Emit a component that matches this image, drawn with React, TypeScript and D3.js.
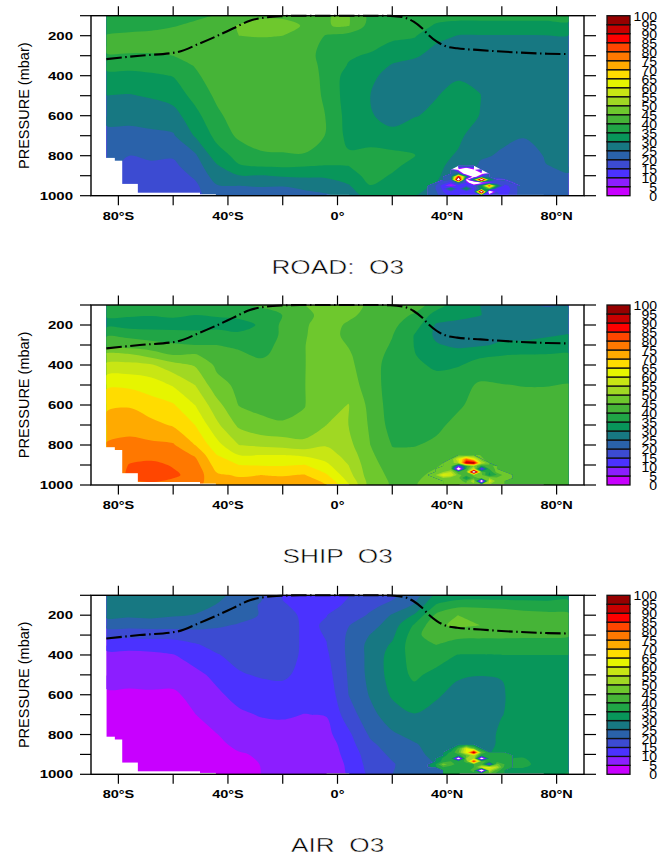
import React from 'react';
import * as d3 from 'd3';

// latitude / pressure grid of the zonal mean fields
const lats = [-84.4, -76, -68, -60, -52, -44, -36, -28, -20, -12, -4, 4, 12, 20, 28, 36, 44, 52, 60, 68, 76, 84.4];
const levels = [100, 150, 200, 250, 300, 350, 400, 500, 600, 700, 800, 850, 900, 950, 1000];

// one profile per latitude, top of atmosphere first
const roadO3 = [
  [37,38,40.2,41.5,39.5,36,34,30,26.5,23.5,20.3,21,20,19,18],
  [37,38.5,40.8,41.5,39.5,36.5,33.5,29.7,26.5,23.5,20,19,18,17.5,17],
  [37,39,41,41.5,39.5,37,34.2,30.5,27,24,20.5,19.5,18,17,16.5],
  [38,39.7,42,42,40,37,35.2,32,28,24.5,20.5,19,17.5,16.5,16],
  [39,41,43,43,41,40.3,39,36.6,33.4,30.4,24.2,22.6,20.8,19,18],
  [40.2,43,44,44,44,43.5,43,41,39,36.5,32.8,29.5,27.5,24.7,23],
  [43,45.3,45,44,44,44,44,43.8,42.5,41,36.5,34.7,29.8,25,23],
  [44,47,45.2,44,44,44,44,44,44,43,39,35.5,29.7,25.3,23],
  [44,47,45,44,44,44,44,44,44,42.5,39.5,35.8,30.5,25.2,23],
  [44,44.5,44.5,44,43,43,43,43,43,42,39.7,35.3,31,25.8,24],
  [44.9,44.9,39.5,37.5,37,38,38.5,39,39.8,39.8,39,34.8,30.5,28.5,24],
  [45.3,45.3,38,36.5,35.5,34.7,33,32.5,33,33.5,35.7,35,33,29.5,27],
  [38.5,38,37.5,36,34.5,33,31.5,30,30.6,33,36.5,37.5,36.5,34.9,32],
  [38,37,36,34.2,32,29.5,27.5,26.5,27.5,32,36.2,36,34.6,32.5,31],
  [37.5,37,35.4,33.5,30.8,28,27,26.5,29.7,33,35.2,33.5,33,31.5,30.5],
  [36.5,34.5,32,29.5,28,27,26.5,29.8,31,32,31.5,31,31,29.5,22],
  [36.5,33.5,29.8,28,27,26.5,29.5,31.5,32,31,29.5,28.5,26,22,20],
  [36.5,33.5,29.7,27,26.5,26.5,28.5,30.2,29.9,27.5,25.5,24.5,22,17,17],
  [36.5,33.5,29.7,27,26,26,26,26,26,25.7,24.6,23.5,21,17,16],
  [36.5,33.5,29.7,27,26,26,26,26,26,25.3,23,22.5,22.3,21,21.5],
  [36.5,33.5,29.8,27,26,26,26,26,26,26.5,25.3,24.9,23.5,22.5,22],
  [36.5,34,29.8,27.5,26.5,26.5,26.5,26.5,26.5,26.5,26,25.5,24.8,23,22],
];

const shipO3 = [
  [37,35.5,33.5,39.5,42.5,51.5,56,63.9,69,72,75.5,75,75,75,75],
  [37,35.6,32.5,39,42,51,56.5,64,69.5,73,76.5,78,80.3,81,78],
  [37.5,35.3,32.5,38,41.5,48,55.5,62.7,67,71.5,76,78,81.5,82.5,79],
  [37.5,36,32.5,37.5,40.5,45,52,59.5,65.5,69.5,75.5,77.5,79.5,81,78],
  [37.5,35,32.5,37,40,45.5,49.5,55,60,65,70,74.5,77,78,76],
  [37.5,35.5,33,37.5,40,42,44,46.6,51.7,56,61.7,65,67.7,70.7,73],
  [39.5,36,33.5,35.7,39,41,42,44,44.8,49,55,60,65,69.5,72],
  [41,37,35.5,36,37,39,42,43,44,46,54,60,64.6,70,72],
  [40.5,40.1,41,41,42,42,42,42,43,45.6,53,60,64.5,69.7,72],
  [45,43.5,44.5,44.7,44.9,44.9,44.9,44.9,44.9,45.6,52,59,65.2,70.2,73],
  [47,47,47,47,47,47,47,48,47.5,50,54.5,57.5,61,65.5,69.9],
  [47,46,44.3,43.8,44.8,45.5,46,47,50.2,50,51.5,53,55,57,60.5],
  [44,43.5,43,43,42.8,42.5,42.5,43,43.5,44.3,45,46,46.5,47,47.5],
  [43,42,41,40.2,39.5,38.5,37.5,37,37.5,38,39.8,41,43,44,44.5],
  [42.5,39.5,37.5,34.9,34.9,35.2,36,37.5,37.5,38,39.7,41.5,43,44,44.5],
  [37.5,33,29.5,29,30.5,33,34.2,37,38.5,38.8,41,43,44.5,46,48],
  [32,32,28,27.5,29,32.2,34.7,37.8,39.2,41.5,43,45,47,50,50],
  [30,30.2,27,27,29.3,34.4,36.2,40.8,42,43,44,45,46,46,46],
  [27.5,27.5,27,28.8,30.8,34.9,36.5,40.2,42,43,43.5,44,43.5,44,44],
  [25.5,27,27,28.8,31,35.2,36.5,39.8,42,43,43.5,43.5,43,42,40],
  [24.5,27,27.5,29.5,31.5,35.3,36.6,39.8,42,43,43.5,43.5,43.5,43,42],
  [24.5,27,27.8,30.2,32.5,35.5,37,40.2,42,43,43.5,43.5,43.5,43.5,43],
];

const airO3 = [
  [28,26.8,26.5,21.8,16.3,11.7,8.8,6.5,4.4,3,2,2,2,2,2],
  [28,27,26,21.8,16.5,11.7,8.8,6.7,4.2,3,2,2,2,2,2],
  [28,27,26.5,22,17,12,9,6.5,4.5,3,2,2,2,2,2],
  [28,27.5,25.5,22,17,12.5,9.8,7,4.2,3,2,2,2,2,2],
  [27.5,26.5,24.8,22,17.5,14.5,12,8.8,6.5,4.9,3,2.5,2,2,2],
  [26,24.8,23,20.8,18,16.5,14.7,11.2,9.2,7,4.9,4,3,2.5,2],
  [23.5,23,22,19.5,18,17,16.5,14.5,11.5,9.2,7,6,4.6,3.5,3],
  [21,19.5,19.7,19,18.5,18,17,15.5,12.5,10.3,8,6.5,5.5,5.1,5],
  [14.5,15.5,17,18,18,18,17.5,15.9,12.8,10.5,8.5,7.5,7,7,6.5],
  [12,13.5,14,14,14,14,14,13.5,12,9.9,8,7.5,7.5,7.5,7],
  [12,13,14.9,15.5,15.2,14.9,14.2,13,11.5,10.2,8.5,7,6.5,6,5.5],
  [14.8,16,18,19.8,20.7,21,21,20.5,20,17.5,14,13,12,11,10.5],
  [17.5,19,20.5,23,25.2,26.5,26.5,26.5,25.5,23.5,20.8,19,17.5,17,16],
  [19,21,25.5,27.5,29,30.7,32,32,30.7,27.8,24.3,22.5,21,19.5,20],
  [22,25.5,30.5,35.5,37.5,38,37,36,33,29.8,26.5,24.5,23.5,23,22],
  [31,35.5,41,44,44.9,40,37.5,33.5,30.4,29,28,27,26.5,25,23],
  [32,38.5,45,46,41,38.5,34.8,30.4,29,28.5,28,27.5,26.8,25,24],
  [32.5,38.5,44.5,45,41,38,34.8,30.2,27,26,26,26.5,27,28,28],
  [32.5,38,43.5,44,41,38,35,30.2,29.5,29.8,31.5,31.5,33.5,35.5,33],
  [32.5,37.5,42,43,41,37.5,35,33,32.5,32.5,32.5,32.5,34.5,36,33],
  [32.5,37,41.5,43,41,37.5,35,33,32.5,32.5,32.5,32.5,32.5,33,33],
  [33,37,41,43,40.5,37.5,35,33,32.5,32.5,32.5,32.5,32.5,33,35.5],
];

// noisy cells near the surface at 40-60N, finer grid than above. n = no data here
const n = null;
const spotLats = [33, 35.8, 38.6, 41.4, 44.2, 47, 49.8, 52.6, 55.4, 58.2, 61, 63.8, 66.6];
const spotLevels = [850, 870, 890, 905, 920, 935, 950, 965, 980, 1000];

const roadSpot = [
  [n,n,n,n,26,33,26,n,n,n,n,n,n],
  [n,n,n,26,-4,-30,-2,25,n,n,n,n,n],
  [n,n,n,22,30,-15,-25,-4,22,n,n,n,n],
  [n,n,24,24,92,35,-8,18,22,n,n,n,n],
  [n,n,22,20,125,-4,38,125,35,20,22,n,n],
  [n,22,18,13,25,15,-25,-8,5,15,18,22,n],
  [23,20,12,3,12,14,16,35,85,35,13,17,22],
  [23,20,14,34,12,36,14,30,45,14,12,16,22],
  [23,21,15,13,12,12,14,125,-20,15,13,16,22],
  [23,22,17,14,13,13,16,14,16,16,14,17,22],
];

const shipSpot = [
  [n,n,n,n,44,41,44,n,n,n,n,n,n],
  [n,n,n,46,60,78,62,46,n,n,n,n,n],
  [n,n,46,47,55,95,97,55,46,n,n,n,n],
  [n,n,47,48,12,38,50,38,44,46,n,n,n],
  [n,46,47,47,-20,40,60,8,40,47,n,n,n],
  [n,47,50,55,40,44,120,45,35,47,46,n,n],
  [46,50,62,60,47,42,46,46,34,40,47,46,n],
  [n,47,50,47,46,33,44,46,50,46,47,46,n],
  [n,n,47,47,46,44,55,-20,60,47,46,n,n],
  [n,n,47,47,46,46,47,55,50,47,46,n,n],
];

const airSpot = [
  [n,n,n,n,30,33,30,n,n,n,n,n,n],
  [n,n,n,30,42,60,45,32,n,n,n,n,n],
  [n,n,32,36,45,62,98,45,36,36,36,n,n],
  [n,n,33,38,37,45,55,35,36,38,37,37,n],
  [n,30,36,38,-15,50,55,-15,36,37,37,36,n],
  [n,30,37,40,36,42,88,44,37,38,38,36,n],
  [28,35,48,42,38,38,40,42,12,47,40,36,n],
  [28,34,40,38,36,38,40,60,62,55,38,36,n],
  [n,n,36,37,37,38,42,-25,55,42,37,n,n],
  [n,n,36,37,37,38,38,50,44,38,37,n,n],
];

// tropopause, same in all three panels
const tropLat = [-84.4, -72.2, -58.8, -50.2, -44.1, -38, -32, -25.9, -19.8, -13.7, 0, 15, 19.3, 24.1, 27.8, 30.9, 33.3, 36.3, 40, 43.7, 52.2, 64.4, 76.6, 84.4];
const tropP = [317, 300, 283, 238, 202, 163, 125, 108, 102, 100, 100, 100, 101, 108, 130, 163, 197, 230, 255, 263, 272, 283, 290, 292];

// below ground: lat from, lat to, pressure. the steps all start at the frame so no seams show
const groundLat0 = [-90, -90, -90, -90, -90, -4, 44.6];
const groundLat1 = [-81.3, -78.6, -72.9, -50.2, -44.4, 4.3, 75.3];
const groundP = [811, 825, 941, 985, 993, 996, 996];

const contourLevels = d3.range(0, 100, 5);
const colors = [
  '#c800ff', '#8c1eff', '#4b32ff', '#3c4bd2', '#2a62aa', '#177882', '#08965a', '#20a546', '#46b437', '#6ec82d',
  '#a0d823', '#c8e614', '#e6f500', '#ffdc00', '#ffaa00', '#ff7800', '#ff4600', '#ff0000', '#c80000', '#960000',
];
const barLabels = d3.range(0, 105, 5);
const pressureTicks = d3.range(100, 1100, 100);
const pressureLabels = [200, 400, 600, 800, 1000];
const latTicks = d3.range(-80, 100, 20);
const latLabels = [[-80, '80°S'], [-40, '40°S'], [0, '0°'], [40, '40°N'], [80, '80°N']] as [number, string][];

const panels = [
  { title: 'ROAD:  O3', top: 15.7, h: 180, field: roadO3, spot: roadSpot },
  { title: 'SHIP  O3', top: 305, h: 180, field: shipO3, spot: shipSpot },
  { title: 'AIR  O3', top: 595.3, h: 179, field: airO3, spot: airSpot },
];

const x = d3.scaleLinear().domain([-90, 90]).range([91, 584]);

function bandPaths(values: (number | null)[], nx: number, ny: number, xAt: any, yAt: any, ths: number[]) {
  const gen = d3.contours().size([nx, ny]).smooth(true).thresholds(ths);
  // contour coordinates are cell edges, grid values sit at i + 0.5
  const proj = d3.geoTransform({
    point(px: number, py: number) {
      (this as any).stream.point(xAt(px - 0.5), yAt(py - 0.5));
    },
  });
  const path = d3.geoPath(proj);
  return gen(values as number[]).map((c: any) => ({ value: c.value, d: path(c) || '' }));
}

// same contours but curved between grid crossings, straight along the edge of the grid
function smoothBands(values: number[], nx: number, ny: number, xAt: any, yAt: any, ths: number[]) {
  const open = d3.line().curve(d3.curveCatmullRom.alpha(0.5));
  const closed = d3.line().curve(d3.curveCatmullRomClosed.alpha(0.5));
  const onEdge = (p: number[]) => p[0] <= 0 || p[0] >= nx || p[1] <= 0 || p[1] >= ny;
  const toPx = (p: number[]) => [xAt(p[0] - 0.5), yAt(p[1] - 0.5)] as [number, number];
  const gen = d3.contours().size([nx, ny]).smooth(true).thresholds(ths);

  return gen(values).map((c: any) => {
    let d = '';
    c.coordinates.forEach((polygon: number[][][]) => {
      polygon.forEach(ring => {
        const pts = ring.slice(0, -1);
        const start = pts.findIndex(onEdge);
        if (start < 0) {
          d += closed(pts.map(toPx));
          return;
        }
        const walk = [...pts.slice(start), ...pts.slice(0, start), pts[start]];
        d += 'M' + toPx(walk[0]);
        let run = [walk[0]];
        for (let i = 1; i < walk.length; i++) {
          run.push(walk[i]);
          if (onEdge(walk[i])) {
            if (run.length === 2) d += 'L' + toPx(walk[i]);
            else d += (open(run.map(toPx)) || '').replace(/^M[^CL]*/, '');
            run = [walk[i]];
          }
        }
        d += 'Z';
      });
    });
    return { value: c.value, d };
  });
}

function Stretched({ tx, ty, sx = 1.3, size, anchor = 'middle', weight = 'bold', children, rotate = 0, thin = 0 }: any) {
  return (
    <text
      transform={`translate(${tx},${ty}) rotate(${rotate}) scale(${sx},1)`}
      fontFamily="Liberation Sans"
      fontSize={size}
      fontWeight={weight}
      textAnchor={anchor}
      xmlSpace="preserve"
      stroke={thin ? '#fff' : 'none'}
      strokeWidth={thin}
    >
      {children}
    </text>
  );
}

function Panel({ p, idx }: any) {
  const { top, h } = p;
  const bottom = top + h;
  const y = d3.scaleLinear().domain([100, 1000]).range([top, bottom]);

  const xAt = d3.scaleLinear().domain(d3.range(lats.length)).range(lats.map(v => x(v))).clamp(true);
  const yAt = d3.scaleLinear().domain(d3.range(levels.length)).range(levels.map(v => y(v))).clamp(true);
  const flat: number[] = [];
  levels.forEach((_, j) => lats.forEach((_, i) => flat.push(p.field[i][j])));
  const bands = smoothBands(flat, lats.length, levels.length, xAt, yAt, contourLevels);

  const sxAt = d3.scaleLinear().domain(d3.range(spotLats.length)).range(spotLats.map(v => x(v))).clamp(true);
  const syAt = d3.scaleLinear().domain(d3.range(spotLevels.length)).range(spotLevels.map(v => y(v))).clamp(true);
  // values outside 0-100 are left unfilled (white), like the original plot
  const spotBands = bandPaths(p.spot.flat(), spotLats.length, spotLevels.length, sxAt, syAt, [-1000, ...contourLevels, 100]);

  const line = d3.line<number>().x(i => x(tropLat[i])).y(i => y(tropP[i])).curve(d3.curveMonotoneX);

  const bar = d3.scaleLinear().domain([0, 100]).range([bottom, top]);

  const spotColor = (v: number) => (v < 0 || v >= 100 ? '#fff' : colors[v / 5]);
  const clipId = `field-${idx}`;

  return (
    <g>
      <clipPath id={clipId}>
        <rect x={x(lats[0])} y={top} width={x(lats[lats.length - 1]) - x(lats[0])} height={h} />
      </clipPath>
      <g clipPath={`url(#${clipId})`}>
        {bands.map(b => <path key={b.value} d={b.d} fill={colors[b.value / 5]} />)}
      </g>
      {spotBands.map(b => <path key={b.value} d={b.d} fill={spotColor(b.value)} />)}
      {groundP.map((g, i) => (
        <rect key={i} x={x(groundLat0[i])} width={x(groundLat1[i]) - x(groundLat0[i])} y={y(g)} height={bottom - y(g)} fill="#fff" />
      ))}
      <path
        d={line(d3.range(tropLat.length)) || ''}
        fill="none"
        stroke="#000"
        strokeWidth={2.1}
        strokeDasharray="15.5 3.5 1.5 3.5"
      />
      <rect x={x(-90)} y={top} width={x(90) - x(-90)} height={h} fill="none" stroke="#000" strokeWidth={1.4} />
      {pressureTicks.map(t => (
        <g key={t} stroke="#000" strokeWidth={1.2}>
          <line x1={80} x2={x(-90)} y1={y(t)} y2={y(t)} />
          <line x1={x(90)} x2={596} y1={y(t)} y2={y(t)} />
        </g>
      ))}
      {latTicks.map(t => (
        <g key={t} stroke="#000" strokeWidth={1.2}>
          <line x1={x(t)} x2={x(t)} y1={top - 9.5} y2={top} />
          <line x1={x(t)} x2={x(t)} y1={bottom} y2={bottom + 9.5} />
        </g>
      ))}
      {pressureLabels.map(t => (
        <Stretched key={t} tx={73} ty={y(t) + 4} size={11} anchor="end" sx={1.36}>{t}</Stretched>
      ))}
      {latLabels.map(([v, s]) => (
        <Stretched key={v} tx={x(v)} ty={bottom + 24} size={10.5} sx={1.38}>{s}</Stretched>
      ))}
      <Stretched tx={29} ty={top + h / 2} size={14.5} sx={1} weight="normal" rotate={-90}>PRESSURE (mbar)</Stretched>
      <Stretched tx={337.7} ty={bottom + 78} size={20.5} sx={1.28} weight="normal" thin={0.45}>{p.title}</Stretched>

      {colors.map((c, i) => (
        <rect
          key={c}
          x={607}
          width={23}
          y={bar(contourLevels[i] + 5)}
          height={bar(contourLevels[i]) - bar(contourLevels[i] + 5)}
          fill={c}
          stroke="#111"
          strokeWidth={1.3}
        />
      ))}
      {barLabels.map(v => (
        <Stretched key={v} tx={657} ty={bar(v) + 5} size={13} anchor="end" sx={1.08} weight="normal">{v}</Stretched>
      ))}
    </g>
  );
}

export default function App() {
  return (
    <svg width={658} height={857} style={{ position: 'absolute', left: 0, top: 0 }}>
      <rect width={658} height={857} fill="#fff" />
      {panels.map((p, i) => <Panel key={p.title} p={p} idx={i} />)}
    </svg>
  );
}
